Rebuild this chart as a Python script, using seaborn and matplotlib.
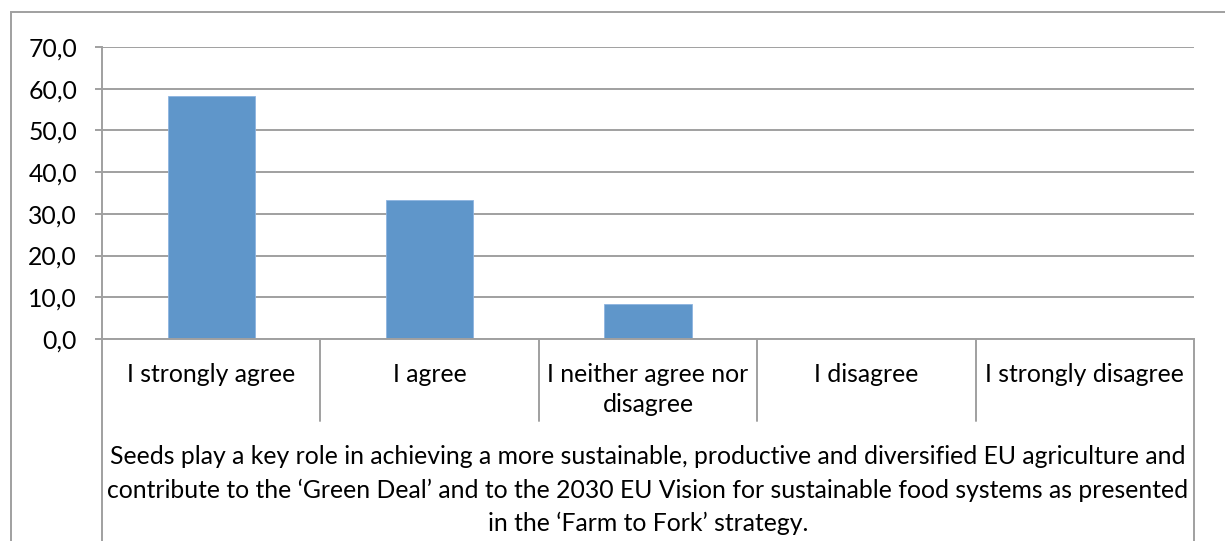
import matplotlib
matplotlib.use("Agg")
import matplotlib.pyplot as plt
import matplotlib.transforms as mtransforms
from matplotlib.patches import Rectangle
from matplotlib.lines import Line2D
from matplotlib.ticker import FuncFormatter
import seaborn as sns

# Survey responses (% of respondents)
categories = ["I strongly agree", "I agree", "I neither agree nor\ndisagree",
              "I disagree", "I strongly disagree"]
values = [58.3, 33.3, 8.3, 0.0, 0.0]
y_ticks = [0, 10, 20, 30, 40, 50, 60, 70]
statement = ("Seeds play a key role in achieving a more sustainable, productive and diversified EU agriculture and\n"
             "contribute to the \u2018Green Deal\u2019 and to the 2030 EU Vision for sustainable food systems as presented\n"
             "in the \u2018Farm to Fork\u2019 strategy.")

sns.set_theme(style="white")
plt.rcParams["font.family"] = ["Lato", "DejaVu Sans"]

FS = 17.8
W, H = 1225, 541
fig = plt.figure(figsize=(W / 100, H / 100), dpi=100)
fig.patch.set_facecolor("white")

# plot area in pixel terms
left, right, top, bottom = 102, 1194, 47, 339
ax = fig.add_axes([left / W, 1 - bottom / H, (right - left) / W, (bottom - top) / H])

bar_color = "#5F96CA"
line_color = "#A0A0A0"

sns.barplot(x=list(range(len(categories))), y=values, color=bar_color,
            width=0.4, ax=ax, saturation=1, edgecolor="#8DB4E0", linewidth=0.6)

ax.set_xlim(-0.5, len(categories) - 0.5)
ax.set_ylim(0, 70)
ax.set_yticks(y_ticks)
ax.yaxis.set_major_formatter(FuncFormatter(lambda v, p: f"{v:.1f}".replace(".", ",")))
ax.set_xticks([])
ax.set_xlabel("")
ax.set_ylabel("")

ax.yaxis.grid(True, color=line_color, linewidth=1.4)
ax.set_axisbelow(True)
for s in ["top", "right"]:
    ax.spines[s].set_visible(False)
for s in ["left", "bottom"]:
    ax.spines[s].set_color(line_color)
    ax.spines[s].set_linewidth(1.4)

ax.tick_params(axis="y", which="major", left=True, length=5, width=1.4,
               color=line_color, pad=13, labelsize=FS, labelcolor="black")

# category boundaries drawn below the axis
trans = mtransforms.blended_transform_factory(ax.transData, ax.transAxes)
def ax_y(px):
    return (bottom - px) / (bottom - top)

n = len(categories)
for k in range(n + 1):
    xb = k - 0.5
    y_end = ax_y(H + 5) if k in (0, n) else ax_y(421)
    ax.add_line(Line2D([xb, xb], [0, y_end], transform=trans, color=line_color,
                       linewidth=1.4, clip_on=False))

for i, lab in enumerate(categories):
    for j, part in enumerate(lab.split("\n")):
        ax.text(i, ax_y(382 + 30 * j), part, transform=trans, ha="center",
                va="baseline", fontsize=FS, color="black")

for j, part in enumerate(statement.split("\n")):
    fig.text((left + right) / 2 / W, 1 - (464 + 33.5 * j) / H, part, ha="center",
             va="baseline", fontsize=FS, color="black")

# outer chart frame
fig.patches.append(Rectangle((11 / W, -0.5), 2.0, 1.5 - 12 / H, transform=fig.transFigure,
                             fill=False, edgecolor=line_color, linewidth=1.4))

fig.savefig("out.png", dpi=100, facecolor="white")
